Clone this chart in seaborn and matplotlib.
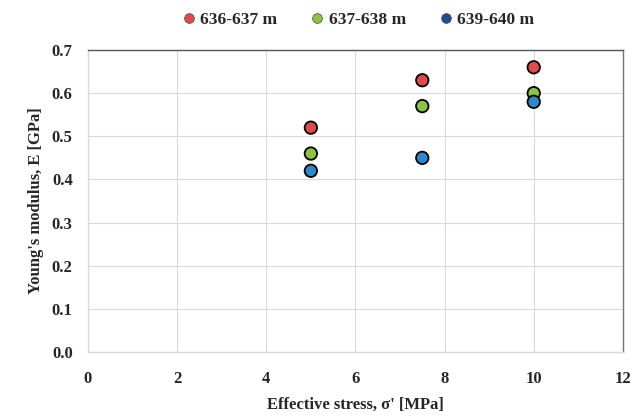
import seaborn as sns
import matplotlib.pyplot as plt
import pandas as pd
from matplotlib.lines import Line2D

# values
stress = [5, 7.5, 10]
depths = ['636-637 m', '637-638 m', '639-640 m']
e_636 = [0.52, 0.63, 0.66]
e_637 = [0.46, 0.57, 0.60]
e_639 = [0.42, 0.45, 0.58]

colors = ['#E04A4A', '#8CC43F', '#2F88CC']
legend_colors = ['#E04A4A', '#8CC43F', '#1F4E8C']

df = pd.DataFrame({
    'stress': stress * 3,
    'E': e_636 + e_637 + e_639,
    'depth': [d for d in depths for _ in stress],
})

sns.set_style('white')
plt.rcParams['font.family'] = ['Liberation Serif', 'DejaVu Serif']
plt.rcParams['font.weight'] = 'bold'

fig = plt.figure(figsize=(6.33, 4.17), dpi=100)
ax = fig.add_axes([0.139, 0.156, 0.845, 0.724])

sns.scatterplot(data=df, x='stress', y='E', hue='depth', palette=colors,
                s=80, edgecolor='black', linewidth=1.3, ax=ax, legend=False,
                zorder=3)

ax.set_xlim(0, 12)
ax.set_ylim(0, 0.7)
ax.set_xticks(range(0, 13, 2))
ax.set_yticks([i / 10 for i in range(8)])
ax.set_yticklabels([f'{i / 10:.1f}' for i in range(8)])
ax.grid(True, color='#D9D9D9', linewidth=0.8)
ax.tick_params(axis='x', length=0, labelsize=12, pad=14)
ax.tick_params(axis='y', length=0, labelsize=12, pad=11)
for lab in ax.get_xticklabels() + ax.get_yticklabels():
    lab.set_fontweight('bold')

ax.spines['top'].set_color('#555555')
ax.spines['right'].set_color('#777777')
ax.spines['left'].set_color('#D9D9D9')
ax.spines['bottom'].set_color('#D9D9D9')
for s in ax.spines.values():
    s.set_linewidth(1.0)

ax.set_xlabel("Effective stress, σ' [MPa]", fontsize=12, fontweight='bold', labelpad=7)
ax.set_ylabel("Young's modulus, E [GPa]", fontsize=12, fontweight='bold', labelpad=6)

handles = [Line2D([], [], marker='o', linestyle='', markersize=7,
                  markerfacecolor=c, markeredgecolor='#444444', markeredgewidth=0.5)
           for c in legend_colors]
fig.legend(handles, depths, loc='upper center', bbox_to_anchor=(0.563, 1.01),
           ncol=3, frameon=False, handletextpad=0.05, columnspacing=1.7,
           handlelength=1.2, prop={'size': 12.5, 'weight': 'bold'})

fig.savefig('out.png', dpi=100)
